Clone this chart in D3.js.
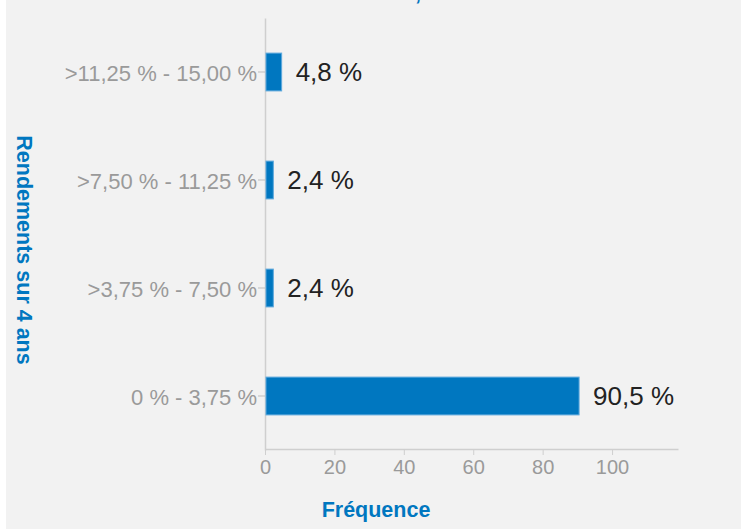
<!DOCTYPE html>
<html>
<head>
<meta charset="utf-8">
<script src="https://cdn.jsdelivr.net/npm/d3@7"></script>
<style>
  html, body { margin: 0; padding: 0; background: #fff; }
  svg { display: block; font-family: "Liberation Sans", Arial, sans-serif; }
</style>
</head>
<body>
<div id="chart"></div>
<script>
// data
var categories = [">11,25 % - 15,00 %", ">7,50 % - 11,25 %", ">3,75 % - 7,50 %", "0 % - 3,75 %"]
var frequencies = [4.8, 2.4, 2.4, 90.5]
var valueLabels = ["4,8 %", "2,4 %", "2,4 %", "90,5 %"]
var xTicks = [0, 20, 40, 60, 80, 100]

var width = 743, height = 529
var blue = "#0077c0"

var svg = d3.select("#chart").append("svg")
  .attr("width", width)
  .attr("height", height)

// grey panel
svg.append("rect")
  .attr("x", 6).attr("y", 0)
  .attr("width", 735).attr("height", height)
  .attr("fill", "#f2f2f2")

// title, mostly cut off above the frame (as in the reference)
svg.append("text")
  .attr("x", 421).attr("y", 0)
  .attr("text-anchor", "end")
  .attr("font-weight", "bold")
  .attr("font-size", 21.5)
  .attr("fill", blue)
  .text("Rendements sur 4 ans,")

var x = d3.scaleLinear().domain([0, 119]).range([265, 678])
var y = d3.scaleBand().domain(categories).range([18, 450])
  .paddingInner(0.65).paddingOuter(0.325)

var rows = categories.map(function(c, i) {
  return { cat: c, value: frequencies[i], label: valueLabels[i] }
})

// x axis
var xAxis = svg.append("g")
  .attr("transform", "translate(0,449)")
  .call(d3.axisBottom(x).tickValues(xTicks).tickSize(6).tickSizeOuter(0).tickPadding(5).tickFormat(d3.format("d")))
xAxis.select(".domain").attr("stroke", "#cfcfcf").attr("stroke-width", 1.5)
xAxis.selectAll(".tick line").attr("stroke", "#cfcfcf")
xAxis.selectAll(".tick text")
  .attr("fill", "#9a9a9a")
  .attr("font-size", 20)
  .attr("font-family", "Liberation Sans, Arial, sans-serif")

// y axis
var yAxis = svg.append("g")
  .attr("transform", "translate(265,0)")
  .call(d3.axisLeft(y).tickSize(7).tickPadding(1).tickSizeOuter(0))
yAxis.select(".domain").attr("stroke", "#cfcfcf").attr("stroke-width", 1.5)
yAxis.selectAll(".tick line").attr("stroke", "#bdbdbd")
yAxis.selectAll(".tick text")
  .attr("fill", "#9a9a9a")
  .attr("font-size", 22)
  .attr("dy", "0.42em")
  .attr("font-family", "Liberation Sans, Arial, sans-serif")

// bars
svg.append("g")
  .selectAll("rect")
  .data(rows)
  .enter().append("rect")
  .attr("x", x(0) + 1)
  .attr("y", function(d) { return y(d.cat) })
  .attr("width", function(d) { return x(d.value) - x(0) - 1 })
  .attr("height", y.bandwidth())
  .attr("fill", blue)
  .attr("stroke", "#5ea9dd")
  .attr("stroke-width", 1)

// value labels
svg.append("g")
  .selectAll("text")
  .data(rows)
  .enter().append("text")
  .attr("x", function(d) { return x(d.value) + 14 })
  .attr("y", function(d) { return y(d.cat) + y.bandwidth() / 2 })
  .attr("dy", "0.34em")
  .attr("font-size", 26)
  .attr("fill", "#222")
  .text(function(d) { return d.label })

// axis titles
svg.append("text")
  .attr("x", 376).attr("y", 517)
  .attr("text-anchor", "middle")
  .attr("font-weight", "bold")
  .attr("font-size", 21.5)
  .attr("fill", blue)
  .text("Fréquence")

svg.append("text")
  .attr("transform", "translate(17,250) rotate(90)")
  .attr("text-anchor", "middle")
  .attr("font-weight", "bold")
  .attr("font-size", 21.5)
  .attr("fill", blue)
  .text("Rendements sur 4 ans")
</script>
</body>
</html>
